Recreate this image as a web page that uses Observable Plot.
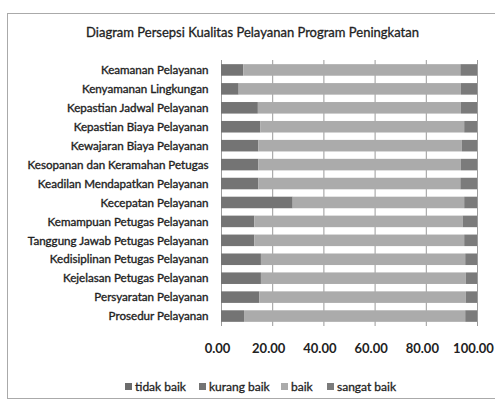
<!DOCTYPE html>
<html>
<head>
<meta charset="utf-8">
<script src="https://cdn.jsdelivr.net/npm/d3@7"></script>
<script src="https://cdn.jsdelivr.net/npm/@observablehq/plot@0.6"></script>
<style>
  html, body { margin: 0; padding: 0; background: #fff; }
  #wrap { position: relative; width: 495px; height: 410px; overflow: hidden; font-family: Lato, "Open Sans", sans-serif; color: #222; }
  #frame { position: absolute; left: 7px; top: 13px; width: 490px; height: 386px; border: 1px solid #aaa; box-sizing: border-box; }
  #title { position: absolute; left: 0; top: 22px; width: 505px; text-align: center; font-size: 13px; line-height: 20px; -webkit-text-stroke: 0.3px #222; }
  #chart { position: absolute; left: 0; top: 50px; }
  #chart svg { overflow: visible; }
  #chart g[aria-label="y-axis tick label"] text { stroke: #222; stroke-width: 0.35px; }
  #legend { position: absolute; top: 379px; left: 0; width: 495px; height: 20px; font-size: 12px; white-space: nowrap; -webkit-text-stroke: 0.3px #222; }
  #legend .item { position: absolute; top: 0; display: flex; align-items: center; }
  #legend .sw { width: 7px; height: 7px; margin-right: 3px; display: inline-block; -webkit-text-stroke: 0; }
</style>
</head>
<body>
<div id="wrap">
  <div id="frame"></div>
  <div id="title">Diagram Persepsi Kualitas Pelayanan Program Peningkatan</div>
  <div id="chart"></div>
  <div id="legend"></div>
</div>
<script>
const categories = [
  "Keamanan Pelayanan",
  "Kenyamanan Lingkungan",
  "Kepastian Jadwal Pelayanan",
  "Kepastian Biaya Pelayanan",
  "Kewajaran Biaya Pelayanan",
  "Kesopanan dan Keramahan Petugas",
  "Keadilan Mendapatkan Pelayanan",
  "Kecepatan Pelayanan",
  "Kemampuan Petugas Pelayanan",
  "Tanggung Jawab Petugas Pelayanan",
  "Kedisiplinan Petugas Pelayanan",
  "Kejelasan Petugas Pelayanan",
  "Persyaratan Pelayanan",
  "Prosedur Pelayanan"
];
const seriesNames = ["tidak baik", "kurang baik", "baik", "sangat baik"];
const tidakBaik  = [0, 0, 0, 0, 0, 0, 0, 0, 0, 0, 0, 0, 0, 0];
const kurangBaik = [8.7, 6.9, 14.4, 15.4, 14.6, 14.6, 14.6, 28.0, 13.0, 13.0, 15.6, 15.6, 15.0, 9.0];
const baik       = [84.8, 86.8, 79.3, 79.6, 79.5, 79.1, 78.9, 67.0, 81.4, 82.0, 79.8, 80.0, 80.6, 86.4];
const sangatBaik = [6.5, 6.3, 6.3, 5.0, 5.9, 6.3, 6.5, 5.0, 5.6, 5.0, 4.6, 4.4, 4.4, 4.6];
const xTicks = [0, 20, 40, 60, 80, 100];
const seriesColors = ["#6c6c6c", "#747474", "#ababab", "#7b7b7b"];
const legendX = [125, 199, 281, 327];

const seriesValues = [tidakBaik, kurangBaik, baik, sangatBaik];
const data = [];
categories.forEach((c, i) => {
  seriesNames.forEach((s, j) => {
    data.push({category: c, series: s, value: seriesValues[j][i]});
  });
});

const font = "Lato, 'Open Sans', sans-serif";
const chart = Plot.plot({
  width: 495,
  height: 315,
  marginTop: 10,
  marginBottom: 39,
  marginLeft: 221,
  marginRight: 18,
  style: {fontFamily: font, fontSize: "12px", color: "#222", background: "transparent", overflow: "visible"},
  x: {domain: [0, 100], label: null},
  y: {domain: categories, label: null, paddingInner: 0.39, paddingOuter: 0.22, round: false},
  color: {domain: seriesNames, range: seriesColors},
  marks: [
    Plot.ruleX(xTicks, {stroke: "#9a9a9a", strokeWidth: 1}),
    Plot.barX(data, Plot.stackX({y: "category", x: "value", fill: "series"})),
    Plot.axisX({ticks: xTicks, tickFormat: d => d.toFixed(2), tickSize: 0, tickPadding: 17, dx: -4, fontWeight: "bold", fontSize: 13, label: null}),
    Plot.axisY({tickSize: 0, tickPadding: 13, fontSize: 11.6, label: null})
  ]
});
document.getElementById("chart").appendChild(chart);

const legend = document.getElementById("legend");
seriesNames.forEach((s, j) => {
  const item = document.createElement("span");
  item.className = "item";
  item.style.left = legendX[j] + "px";
  const sw = document.createElement("span");
  sw.className = "sw";
  sw.style.background = seriesColors[j];
  item.appendChild(sw);
  item.appendChild(document.createTextNode(s));
  legend.appendChild(item);
});
</script>
</body>
</html>
